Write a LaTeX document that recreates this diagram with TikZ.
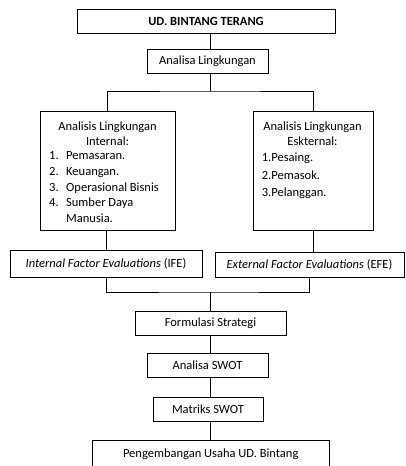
\documentclass[tikz,border=0pt]{standalone}
\usepackage{fontspec}
\setmainfont{Carlito}
\usetikzlibrary{positioning}

\newcommand{\chartfont}{\fontsize{12.5pt}{15.3pt}\selectfont}

\begin{document}
\begin{tikzpicture}[x=1pt, y=-1pt,
    box/.style={draw, line width=0.9pt, inner sep=0pt, minimum height=24pt},
    link/.style={draw, line width=0.9pt},
    every node/.style={font=\chartfont}]
    \useasboundingbox (0,0) rectangle (406,466);
    \clip (0,0) rectangle (406,466);

    % Top
    \node[box, minimum width=258pt, font=\chartfont\bfseries] (ud) at (206,21) {UD. BINTANG TERANG};
    \node[box, minimum width=121pt] (lingk) at (207.5,61) {Analisa Lingkungan};
    \coordinate (spine) at (210,0);
    \coordinate (split) at (210,91);

    % Internal environment
    \node[box, minimum width=135pt, minimum height=119pt] (intern) at (107.5,170.5) {};
    \node[align=center, inner sep=0pt] (internhead) at (107.5,133.7) {Analisis Lingkungan\\Internal:};
    \node[anchor=west, inner sep=0pt] (internlist) at (49,188)
        {\begin{tabular}{@{}p{17pt}@{}l@{}}
            1. & Pemasaran.\\[0.5pt]
            2. & Keuangan.\\[0.5pt]
            3. & Operasional Bisnis\\[0.5pt]
            4. & Sumber Daya\\[0.5pt]
               & Manusia.
        \end{tabular}};

    % External environment
    \node[box, minimum width=120pt, minimum height=119pt] (extern) at (313,170.5) {};
    \node[align=center, inner sep=0pt] (externhead) at (312.5,133.8) {Analisis Lingkungan\\Eskternal:};
    \node[anchor=west, inner sep=0pt] (externlist) at (261.7,176)
        {\begin{tabular}{@{}l@{}}
            1.Pesaing.\\[1.8pt]
            2.Pemasok.\\[1.8pt]
            3.Pelanggan.
        \end{tabular}};

    % IFE and EFE
    \node[box, minimum width=192pt, minimum height=27pt] (ife) at (106,263.5) {\textit{Internal Factor Evaluations} (IFE)};
    \node[box, minimum width=189pt, minimum height=25pt] (efe) at (309.5,264.5) {\textit{External Factor Evaluations} (EFE)};
    \coordinate (merge) at (210,292);

    % Strategy steps
    \node[box, minimum width=151pt] (formul) at (210.5,323) {Formulasi Strategi};
    \node[box, minimum width=121pt] (swot) at (207.5,365) {Analisa SWOT};
    \node[box, minimum width=110pt] (matriks) at (208,409) {Matriks SWOT};
    \node[box, minimum width=237pt, minimum height=28pt] (usaha) at (210.7,454) {Pengembangan Usaha UD. Bintang};

    % Connectors
    \draw[link] (ud.south -| spine) -- (lingk.north -| spine);
    \draw[link] (lingk.south -| spine) -- (split);
    \draw[link] (intern.north) |- (split) -| (extern.north);
    \draw[link] (intern.south -| ife.north) -- (ife.north);
    \draw[link] (extern.south) -- (extern.south |- efe.north);
    \draw[link] (ife.south) |- (merge) -| (efe.south);
    \draw[link] (merge) -- (formul.north -| merge);
    \draw[link] (formul.south -| spine) -- (swot.north -| spine);
    \draw[link] (swot.south -| spine) -- (matriks.north -| spine);
    \draw[link] (matriks.south -| spine) -- (usaha.north -| spine);
\end{tikzpicture}
\end{document}
